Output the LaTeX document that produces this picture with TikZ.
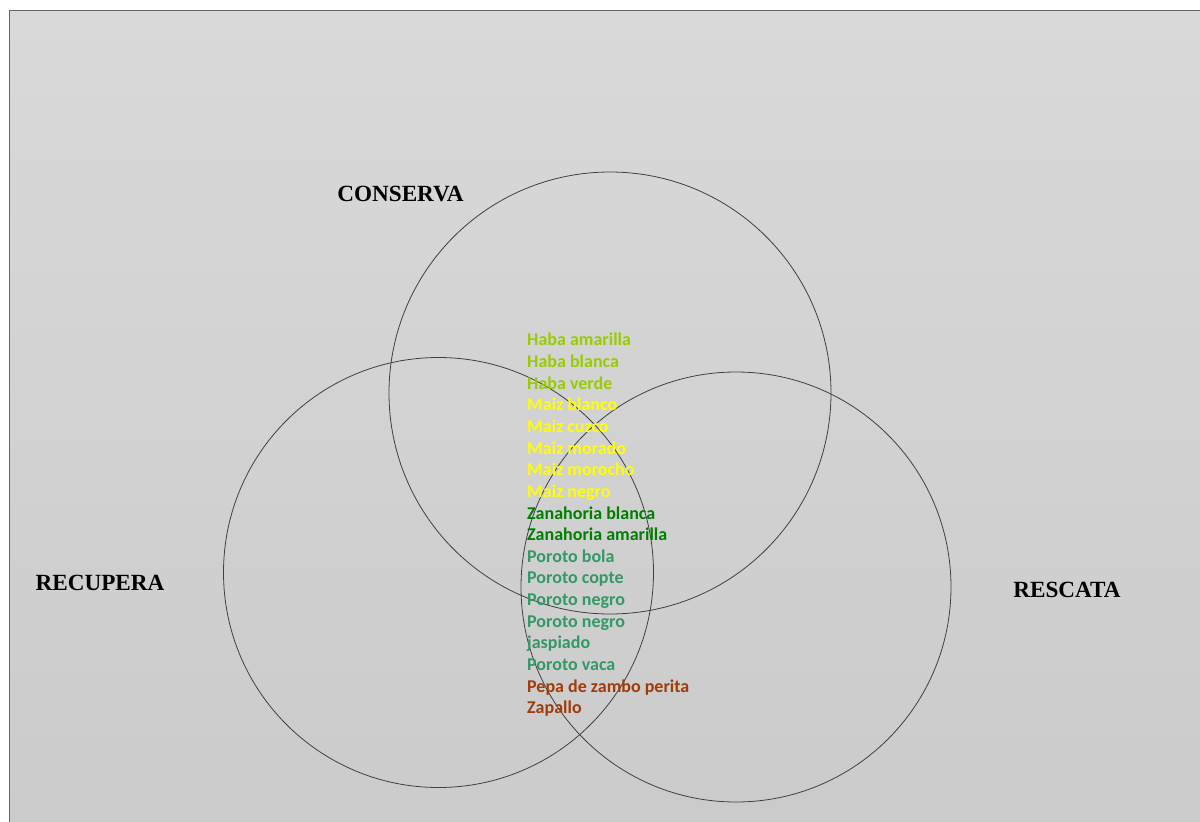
\documentclass[tikz,border=0pt]{standalone}
\usepackage{fontspec}
\newfontfamily\calib{Carlito}
\newfontfamily\tnr{Liberation Serif}
\definecolor{habac}{HTML}{99CC00}
\definecolor{maizc}{HTML}{FFFF00}
\definecolor{zanac}{HTML}{008000}
\definecolor{poroc}{HTML}{339966}
\definecolor{pepac}{HTML}{A03C0A}
\definecolor{bgtop}{HTML}{D9D9D9}
\definecolor{bgbot}{HTML}{CBCBCB}
\tikzset{
  venn/.style={draw=black!75, line width=0.8pt},
  setlabel/.style={font=\tnr\bfseries\fontsize{23.2}{27}\selectfont, inner sep=0pt},
  itemlist/.style={font=\calib\bfseries\fontsize{18}{21.65}\selectfont, align=left, inner sep=0pt, anchor=north west}
}
\begin{document}
\begin{tikzpicture}[x=1pt,y=-1pt]
\useasboundingbox (0,0) rectangle (1200,822);
\fill[white] (0,0) rectangle (1200,822);
\shade[top color=bgtop, bottom color=bgbot] (9.5,10.5) rectangle (1200,822);
\draw[black!60, line width=1.2pt] (9.5,822) -- (9.5,10.5) -- (1200,10.5);
\node[venn, circle, minimum size=442pt, inner sep=0pt] (conserva) at (610,393) {};
\node[venn, circle, minimum size=430pt, inner sep=0pt] (recupera) at (438.5,572.5) {};
\node[venn, circle, minimum size=430pt, inner sep=0pt] (rescata) at (736,587) {};
\node[setlabel] (lconserva) at (400.5,194) {CONSERVA};
\node[setlabel] (lrecupera) at (100,583) {RECUPERA};
\node[setlabel] (lrescata) at (1067,590) {RESCATA};
\node[itemlist] (items) at (527,333) {%
\color{habac}Haba amarilla\\
\color{habac}Haba blanca\\
\color{habac}Haba verde\\
\color{maizc}Maiz blanco\\
\color{maizc}Maiz cuzco\\
\color{maizc}Maiz morado\\
\color{maizc}Maiz morocho\\
\color{maizc}Maiz negro\\
\color{zanac}Zanahoria blanca\\
\color{zanac}Zanahoria amarilla\\
\color{poroc}Poroto bola\\
\color{poroc}Poroto copte\\
\color{poroc}Poroto negro\\
\color{poroc}Poroto negro\\
\color{poroc}jaspiado\\
\color{poroc}Poroto vaca\\
\color{pepac}Pepa de zambo perita\\
\color{pepac}Zapallo};
\end{tikzpicture}
\end{document}
